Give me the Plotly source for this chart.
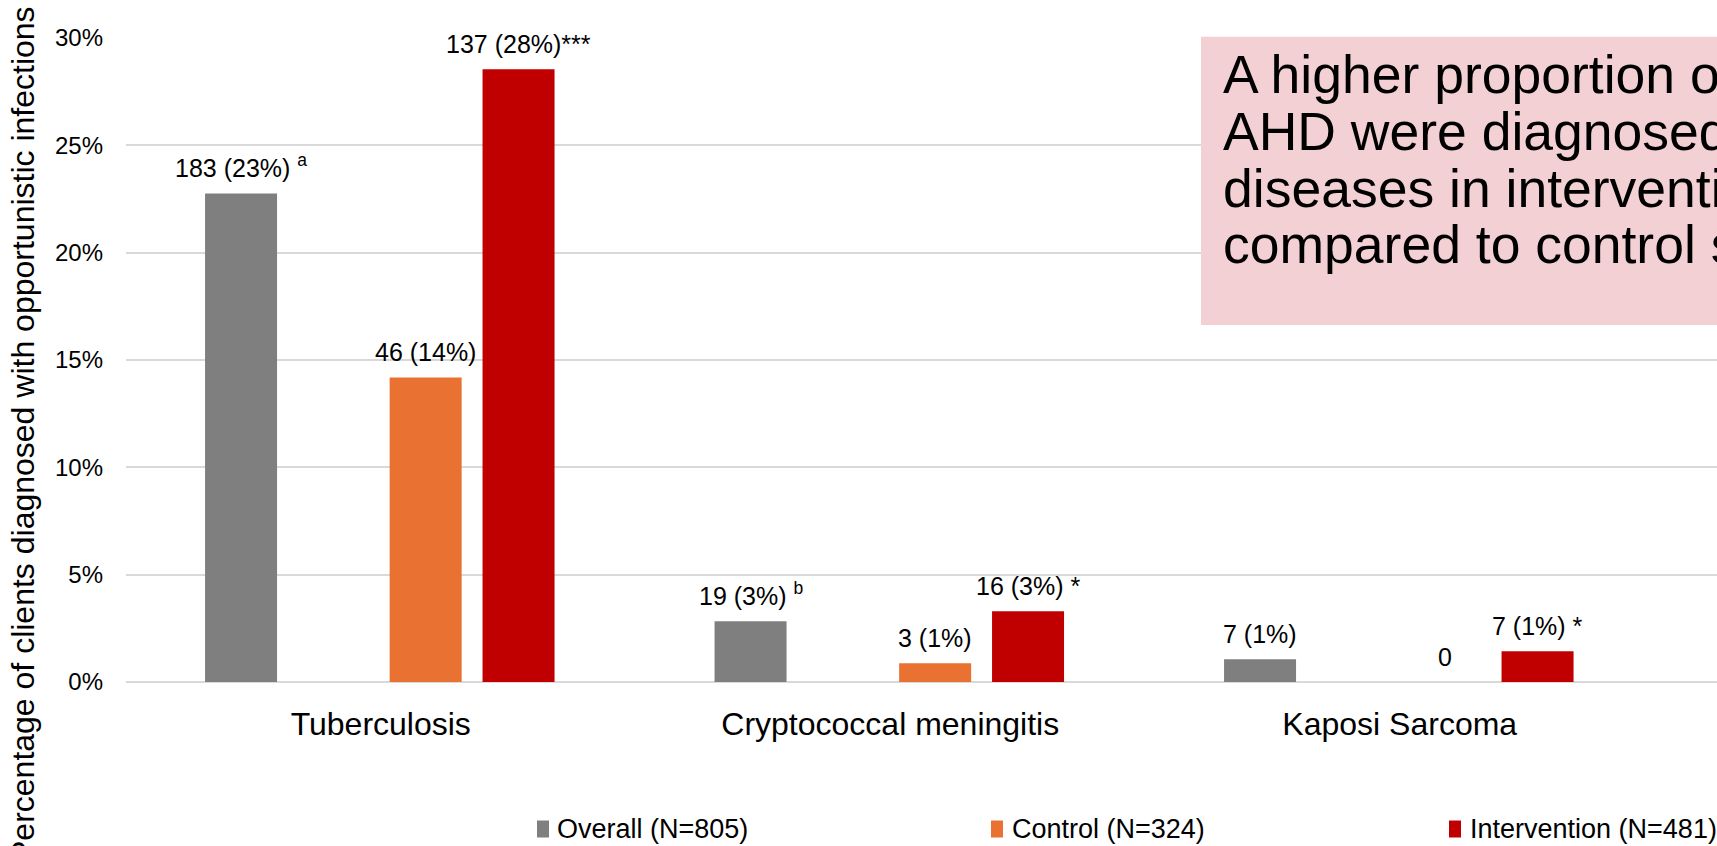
import plotly.graph_objects as go

# Chart data
categories = ["Tuberculosis", "Cryptococcal meningitis", "Kaposi Sarcoma"]
series_names = ["Overall (N=805)", "Control (N=324)", "Intervention (N=481)"]
overall_pct = [22.76, 2.83, 1.06]
control_pct = [14.19, 0.87, 0.0]
intervention_pct = [28.54, 3.29, 1.43]
overall_labels = ["183 (23%) <sup>a</sup>", "19 (3%) <sup>b</sup>", "7 (1%)"]
control_labels = ["46 (14%)", "3 (1%)", "0"]
intervention_labels = ["137 (28%)***", "16 (3%) *", "7 (1%) *"]
y_ticks = [0, 5, 10, 15, 20, 25, 30]
y_ticktext = ["0%", "5%", "10%", "15%", "20%", "25%", "30%"]
y_title = "Percentage of clients diagnosed with opportunistic infections"
callout_lines = [
    "A higher proportion of clients with",
    "AHD were diagnosed with opportunistic",
    "diseases in intervention sites",
    "compared to control sites",
]

# Layout geometry (pixels)
W, H = 1717, 846
ML, MR, MT, MB = 126, 0, 38, 164
PW, PH = W - ML - MR, H - MT - MB
CAT_PX = 509.5  # width of one category band


def px_x(px):
    return (px - ML) / PW


def px_y(py):
    return (H - MB - py) / PH


FONT = "Liberation Sans, Arial, sans-serif"
colors = ["#7F7F7F", "#E97132", "#C00000"]
bar_width = 72 / CAT_PX
centers = [-139.7 / CAT_PX, 44.9 / CAT_PX, 137.8 / CAT_PX]
values = [overall_pct, control_pct, intervention_pct]
labels = [overall_labels, control_labels, intervention_labels]

fig = go.Figure()
for name, vals, col, c in zip(series_names, values, colors, centers):
    fig.add_trace(go.Bar(
        x=categories, y=vals, name=name,
        marker=dict(color=col, line=dict(width=0)),
        width=bar_width, offset=c - bar_width / 2,
        hoverinfo="skip", showlegend=False,
    ))

annotations = []
shapes = []

# value labels above each bar
for vals, labs, c in zip(values, labels, centers):
    for i, (v, t) in enumerate(zip(vals, labs)):
        annotations.append(dict(
            x=i + c, y=v, xref="x", yref="y", text=t, showarrow=False,
            xanchor="center", yanchor="bottom", yshift=9,
            font=dict(family=FONT, size=25, color="#000000"),
        ))

# rotated axis title
annotations.append(dict(
    x=px_x(23), y=px_y(434), xref="paper", yref="paper", text=y_title,
    textangle=-90, showarrow=False, xanchor="center", yanchor="middle",
    font=dict(family=FONT, size=32, color="#000000"),
))

# callout box and its text
shapes.append(dict(
    type="rect", xref="paper", yref="paper",
    x0=px_x(1201), x1=1.3, y0=px_y(325), y1=px_y(36.7),
    fillcolor="#F2D0D3", line=dict(width=0), layer="above",
))
for k, line in enumerate(callout_lines):
    baseline = 93.3 + k * 56.7
    annotations.append(dict(
        x=px_x(1221), y=px_y(baseline - 18.6), xref="paper", yref="paper",
        text=line, showarrow=False, xanchor="left", yanchor="middle",
        font=dict(family=FONT, size=53.5, color="#000000"),
    ))

# legend: colour key squares with series names
legend_icon_x = [537, 991, 1449]
legend_text_x = [555, 1010, 1468]
LEG_Y = 829
for name, col, ix, tx in zip(series_names, colors, legend_icon_x, legend_text_x):
    shapes.append(dict(
        type="rect", xref="paper", yref="paper",
        x0=px_x(ix), x1=px_x(ix + 12), y0=px_y(LEG_Y + 8.5), y1=px_y(LEG_Y - 8.5),
        fillcolor=col, line=dict(width=0), layer="above",
    ))
    annotations.append(dict(
        x=px_x(tx), y=px_y(LEG_Y), xref="paper", yref="paper", text=name,
        showarrow=False, xanchor="left", yanchor="middle",
        font=dict(family=FONT, size=27, color="#000000"),
    ))

fig.update_layout(
    width=W, height=H,
    margin=dict(l=ML, r=MR, t=MT, b=MB, pad=0),
    paper_bgcolor="#FFFFFF", plot_bgcolor="#FFFFFF",
    barmode="overlay",
    font=dict(family=FONT, color="#000000"),
    xaxis=dict(
        type="category", range=[-0.5, -0.5 + PW / CAT_PX],
        showgrid=False, showline=False, zeroline=False, ticks="",
        tickfont=dict(family=FONT, size=32, color="#000000"),
        ticklabelstandoff=20,
    ),
    yaxis=dict(
        range=[0, 30], tickvals=y_ticks, ticktext=y_ticktext,
        showgrid=True, gridcolor="#D9D9D9", gridwidth=2,
        zeroline=True, zerolinecolor="#D9D9D9", zerolinewidth=2,
        showline=False, ticks="",
        tickfont=dict(family=FONT, size=24, color="#000000"),
        ticklabelstandoff=22,
    ),
    shapes=shapes,
    annotations=annotations,
    showlegend=False,
)

fig.write_html("out.html")
